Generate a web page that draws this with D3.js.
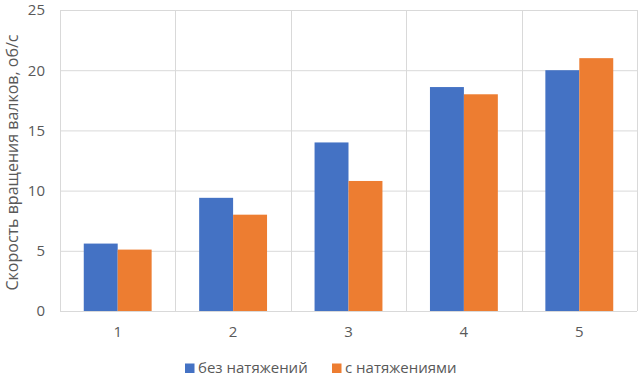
<!DOCTYPE html>
<html><head><meta charset="utf-8">
<script src="https://cdn.jsdelivr.net/npm/d3@7"></script>
<style>body{margin:0;background:#fff}svg{display:block;font-family:"Open Sans",sans-serif}</style>
</head><body><svg id="c" width="639" height="378"></svg>
<script>
const categories = ["1","2","3","4","5"];
const seriesNames = ["без натяжений","с натяжениями"];
const withoutTension = [5.6,9.4,14,18.6,20];
const withTension = [5.1,8.0,10.8,18,21];
const yTicks = [0,5,10,15,20,25];
const colors = ["#4472C4","#ED7D31"];
const yTitle = "Скорость вращения валков, об/с";

const svg = d3.select("#c");
const m = {l:60,r:2,t:10,b:67};
const W = 639, H = 378;
const x = d3.scaleBand().domain(categories).range([m.l, W-m.r]);
const y = d3.scaleLinear().domain([0,25]).range([311,10]);
const x1 = d3.scaleBand().domain(seriesNames).range([0, x.bandwidth()]).paddingOuter(0.70).paddingInner(0);

// horizontal grid
svg.append("g").selectAll("line").data(yTicks).join("line")
 .attr("x1",m.l).attr("x2",W-m.r).attr("y1",d=>y(d)+0.5).attr("y2",d=>y(d)+0.5)
 .attr("stroke","#d9d9d9").attr("stroke-width",1);
// vertical grid
const bounds = categories.map(c=>x(c)).concat([W-m.r]);
svg.append("g").selectAll("line").data(bounds).join("line")
 .attr("x1",d=>Math.round(d)+0.5).attr("x2",d=>Math.round(d)+0.5).attr("y1",y(25)).attr("y2",y(0))
 .attr("stroke","#d9d9d9").attr("stroke-width",1);

const data = categories.map((c,i)=>({c, vals:[withoutTension[i], withTension[i]]}));
const g = svg.append("g");
data.forEach(d=>{
  d.vals.forEach((v,j)=>{
    g.append("rect").attr("x",x(d.c)+x1(seriesNames[j])).attr("width",x1.bandwidth())
     .attr("y",y(v)).attr("height",y(0)-y(v)).attr("fill",colors[j]);
  });
});

// y axis labels
const yAxis = d3.axisLeft(y).tickValues(yTicks).tickSize(0).tickPadding(15);
const ya = svg.append("g").attr("transform",`translate(${m.l},0)`).call(yAxis);
ya.select(".domain").remove();
ya.selectAll("text").attr("fill","#595959").style("font-size","15px").style("font-family","'Open Sans',sans-serif");

const xAxis = d3.axisBottom(x).tickSize(0).tickPadding(15);
const xa = svg.append("g").attr("transform",`translate(0,${y(0)})`).call(xAxis);
xa.select(".domain").remove();
xa.selectAll("text").attr("fill","#595959").style("font-size","15px").style("font-family","'Open Sans',sans-serif");

svg.append("text").attr("transform",`translate(18,${(y(0)+y(25))/2 + 2}) rotate(-90)`)
 .attr("text-anchor","middle").attr("fill","#595959").style("font-size","16px").text(yTitle);

// legend
const lg = svg.append("g").attr("transform","translate(0,373)");
const lx = [185,332];
seriesNames.forEach((s,i)=>{
  lg.append("rect").attr("x",lx[i]).attr("y",-9.5).attr("width",9.5).attr("height",9.5).attr("fill",colors[i]);
  lg.append("text").attr("x",lx[i]+13).attr("y",0).attr("fill","#595959").style("font-size","15px").text(s);
});
</script></body></html>
